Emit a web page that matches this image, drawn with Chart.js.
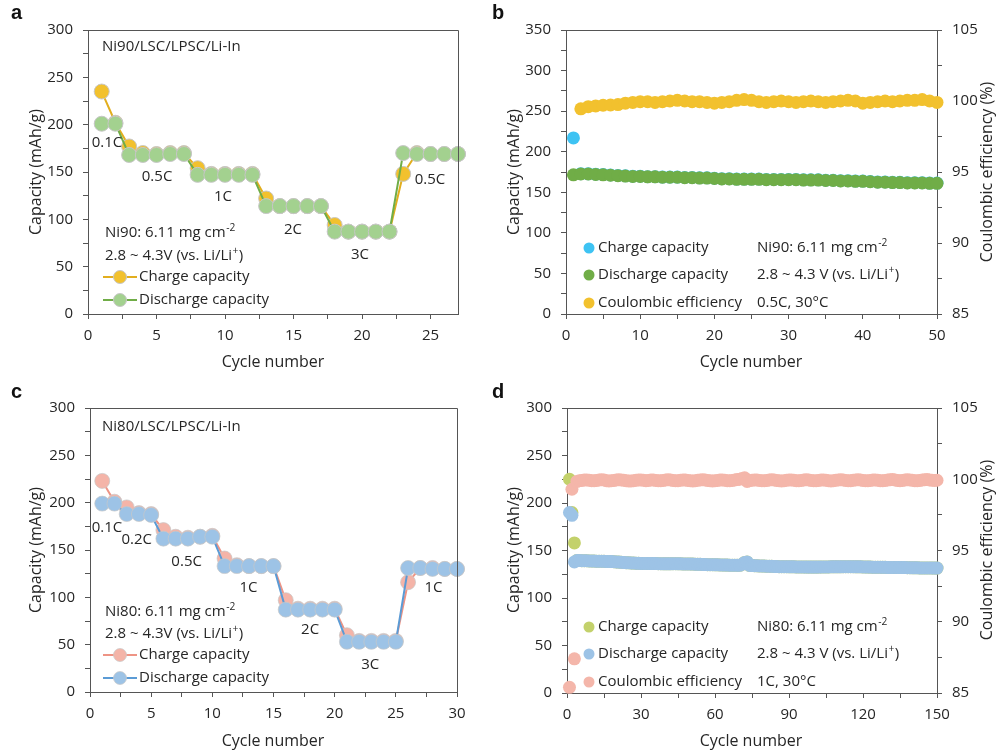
<!DOCTYPE html>
<html><head><meta charset="utf-8">
<script src="https://cdn.jsdelivr.net/npm/chart.js@4.4.1/dist/chart.umd.min.js"></script>
<style>
html,body{margin:0;padding:0;background:#fff;}
#wrap{position:relative;width:997px;height:755px;overflow:hidden;}
canvas{position:absolute;left:0;top:0;}
</style>
</head><body><div id="wrap">
<canvas id="ca" width="997" height="755"></canvas>
<canvas id="cb" width="997" height="755"></canvas>
<canvas id="cc" width="997" height="755"></canvas>
<canvas id="cd" width="997" height="755"></canvas>
</div>
<script>
// ---------------- DATA ----------------
// Panel a: Ni90 rate capability
const cyclesA = [1,2,3,4,5,6,7,8,9,10,11,12,13,14,15,16,17,18,19,20,21,22,23,24,25,26,27];
const chargeA = [235,202,177,170,169,170,170,154,148,148,148,148,122,114,114,114,114,94,87,87,87,87,148,170,169,169,169];
const dischargeA = [201,201,168,168,168,169,169,147,147,147,147,147,114,114,114,114,114,87,87,87,87,87,170,169,169,169,169];
const rateLabelsA = ['0.1C','0.5C','1C','2C','3C','0.5C'];
const rateLabelXA = [1.39,5.04,9.85,14.96,19.85,24.96];
const rateLabelYA = [180.6,144.7,123.6,88.7,62.3,142.3];

// Panel b: Ni90 cycling at 0.5C
const chargeB = [217,172.9,172.8,172.3,171.8,171.3,170.8,170.3,169.8,169.8,
  169.3,169.3,168.8,168.8,168.8,168.3,168.3,167.8,167.8,167.3,
  166.8,166.8,166.3,166.3,166.3,166.3,165.8,165.8,165.8,165.8,
  165.8,165.3,165.3,165.3,164.8,164.8,164.3,164.3,163.8,163.8,
  163.3,162.8,162.8,162.3,162.3,161.8,161.8,161.8,161.3,161.3];
const dischargeB = [171.5,172.5,172.5,172,171.5,171,170.5,170,169.5,169.5,
  169,169,168.5,168.5,168.5,168,168,167.5,167.5,167,
  166.5,166.5,166,166,166,166,165.5,165.5,165.5,165.5,
  165.5,165,165,165,164.5,164.5,164,164,163.5,163.5,
  163,162.5,162.5,162,162,161.5,161.5,161.5,161,161];
const ceB = [null,99.45,99.6,99.65,99.7,99.72,99.75,99.85,99.9,99.95,
  99.95,99.9,99.95,100.0,100.05,100.0,99.95,99.95,99.9,99.85,
  99.9,99.95,100.05,100.1,100.05,99.95,99.9,99.95,100.0,99.95,
  99.9,99.95,100.0,99.95,99.9,99.95,100.0,100.05,100.0,99.85,
  99.9,99.95,100.0,99.95,100.0,100.05,100.05,100.1,100.0,99.9];

// Panel c: Ni80 rate capability
const cyclesC = [1,2,3,4,5,6,7,8,9,10,11,12,13,14,15,16,17,18,19,20,21,22,23,24,25,26,27,28,29,30];
const chargeC = [223,201,195,189,188,171,164,163,164,165,141,134,133,133,133,97,88,88,88,88,60,54,54,54,54,116,131,131,130,130];
const dischargeC = [199,199,188,188,187,162,162,162,164,164,133,133,133,133,133,87,87,87,87,87,53,53,53,53,53,131,131,130,130,130];
const rateLabelsC = ['0.1C','0.2C','0.5C','1C','2C','3C','1C'];
const rateLabelXC = [1.39,3.82,7.9,12.95,17.99,22.9,28.07];
const rateLabelYC = [173.9,161.1,138.1,109.9,65.7,28.6,109.9];

// Panel d: Ni80 cycling at 1C
const chargeD = [225,190,158,139.5,139.5,139.3,139.2,139.2,139.0,139.0,
  138.9,138.8,138.8,138.7,138.6,138.5,138.5,138.3,138.2,138.0,
  137.8,137.6,137.4,137.2,137.0,136.9,136.8,136.6,136.5,136.4,
  136.4,136.3,136.3,136.2,136.2,136.2,136.1,136.1,136.0,136.0,
  136.0,136.0,136.1,136.1,136.0,136.0,135.9,135.9,135.8,135.8,
  135.7,135.6,135.5,135.4,135.3,135.2,135.1,135.0,135.0,134.9,
  134.9,134.8,134.8,134.7,134.7,134.6,134.6,134.5,134.5,134.4,
  135.5,137.4,137.9,134.3,134.1,134.0,133.9,133.8,133.7,133.6,
  133.5,133.4,133.3,133.2,133.1,133.0,133.0,132.9,132.9,132.8,
  132.8,132.8,132.7,132.7,132.7,132.7,132.6,132.6,132.6,132.6,
  132.6,132.6,132.7,132.7,132.7,132.7,132.8,132.8,132.8,132.8,
  132.8,132.9,132.9,132.9,132.9,132.9,132.8,132.8,132.8,132.7,
  132.7,132.6,132.6,132.5,132.5,132.4,132.4,132.3,132.3,132.2,
  132.2,132.2,132.1,132.1,132.0,132.0,132.0,131.9,131.9,131.8,
  131.8,131.8,131.7,131.7,131.7,131.6,131.6,131.6,131.5,131.5];
const dischargeD = [190,187,138,139.5,139.5,139.3,139.2,139.2,139.0,139.0,
  138.9,138.8,138.8,138.7,138.6,138.5,138.5,138.3,138.2,138.0,
  137.8,137.6,137.4,137.2,137.0,136.9,136.8,136.6,136.5,136.4,
  136.4,136.3,136.3,136.2,136.2,136.2,136.1,136.1,136.0,136.0,
  136.0,136.0,136.1,136.1,136.0,136.0,135.9,135.9,135.8,135.8,
  135.7,135.6,135.5,135.4,135.3,135.2,135.1,135.0,135.0,134.9,
  134.9,134.8,134.8,134.7,134.7,134.6,134.6,134.5,134.5,134.4,
  135.5,137.5,138.0,134.3,134.1,134.0,133.9,133.8,133.7,133.6,
  133.5,133.4,133.3,133.2,133.1,133.0,133.0,132.9,132.9,132.8,
  132.8,132.8,132.7,132.7,132.7,132.7,132.6,132.6,132.6,132.6,
  132.6,132.6,132.7,132.7,132.7,132.7,132.8,132.8,132.8,132.8,
  132.8,132.9,132.9,132.9,132.9,132.9,132.8,132.8,132.8,132.7,
  132.7,132.6,132.6,132.5,132.5,132.4,132.4,132.3,132.3,132.2,
  132.2,132.2,132.1,132.1,132.0,132.0,132.0,131.9,131.9,131.8,
  131.8,131.8,131.7,131.7,131.7,131.6,131.6,131.6,131.5,131.5];
const ceD = [85.4,99.3,87.4,99.85,99.9,99.92,99.95,99.95,99.93,99.9,
  99.9,99.92,99.95,99.97,99.95,99.9,99.88,99.9,99.92,99.95,
  99.97,99.95,99.93,99.9,99.88,99.88,99.9,99.93,99.95,99.95,
  99.93,99.9,99.92,99.95,99.95,99.92,99.9,99.9,99.92,99.95,
  99.97,99.95,99.92,99.9,99.9,99.93,99.95,99.95,99.92,99.9,
  99.88,99.9,99.93,99.95,99.97,99.95,99.92,99.9,99.88,99.9,
  99.92,99.95,99.95,99.93,99.9,99.9,99.92,99.95,99.98,100.0,
  100.05,100.1,99.85,99.9,99.93,99.95,99.95,99.92,99.9,99.9,
  99.92,99.95,99.97,99.95,99.92,99.9,99.88,99.9,99.93,99.95,
  99.95,99.93,99.9,99.9,99.92,99.95,99.97,99.95,99.92,99.9,
  99.9,99.92,99.95,99.95,99.93,99.9,99.88,99.9,99.93,99.95,
  99.97,99.95,99.92,99.9,99.9,99.93,99.95,99.97,99.95,99.92,
  99.9,99.9,99.92,99.95,99.95,99.93,99.9,99.9,99.92,99.95,
  99.97,99.98,99.95,99.92,99.9,99.92,99.95,99.97,99.95,99.93,
  99.9,99.9,99.92,99.95,99.97,99.98,99.95,99.93,99.92,99.93];

// ---------------- STYLE ----------------
const FONT = '"Open Sans", sans-serif';
const TXT = '#262626';
const AX = '#555555';
const C = {
  aCharge:'#F2C12E', aChargeLine:'#E2AE1E', aDis:'#A3D18F', aDisLine:'#70AD47',
  bCharge:'#3EC3F3', bDis:'#70AD47', bCE:'#F2C12E',
  cCharge:'#F4B4A8', cChargeLine:'#EE9485', cDis:'#9DC3E6', cDisLine:'#5B9BD5',
  dCharge:'#C3D16B', dDis:'#9DC3E6', dCE:'#F4B6AA'
};

function pts(xs, ys){ return ys.map((y,i)=>({x: xs ? xs[i] : i+1, y})); }

function isMult(v, m){ const r = v/m; return Math.abs(r-Math.round(r))<1e-6; }

function xAxis(min,max,step,every,h){
  return {type:'linear',position:'bottom',min,max,
    ticks:{stepSize:step,includeBounds:false,autoSkip:false,maxRotation:0,minRotation:0,padding:8,color:TXT,
      font:{family:FONT,size:15},callback:v=>isMult(v,every)?String(v):''},
    grid:{drawOnChartArea:false,drawTicks:true,tickLength:5,tickColor:AX,tickWidth:1},
    border:{display:true,color:AX,width:1},
    afterFit:s=>{s.height=h;}};
}
function yAxis(min,max,step,every,w,pos){
  return {type:'linear',position:pos||'left',min,max,
    ticks:{stepSize:step,includeBounds:false,autoSkip:false,padding:10,color:TXT,
      font:{family:FONT,size:15},callback:v=>isMult(v,every)?String(v):''},
    grid:{drawOnChartArea:false,drawTicks:true,tickLength:5,tickColor:AX,tickWidth:1},
    border:{display:true,color:AX,width:1},
    afterFit:s=>{s.width=w;}};
}

function rich(ctx, x, y, parts, size){
  let cx = x;
  ctx.textAlign='left'; ctx.textBaseline='middle'; ctx.fillStyle=TXT;
  for(const p of parts){
    const sup = p[1];
    const fs = sup ? size*0.68 : size;
    ctx.font = fs+'px '+FONT;
    ctx.fillText(p[0], cx + (sup?0.5:0), sup ? y - size*0.33 : y);
    cx += ctx.measureText(p[0]).width + (sup?1:0);
  }
}
function rotText(ctx, x, y, text, size, ang){
  ctx.save(); ctx.translate(x,y); ctx.rotate(ang);
  ctx.font = size+'px '+FONT; ctx.fillStyle=TXT; ctx.textAlign='center'; ctx.textBaseline='middle';
  ctx.fillText(text,0,0); ctx.restore();
}
function letter(ctx, x, y, t){
  ctx.font='bold 20px "Liberation Sans", Arial, sans-serif'; ctx.fillStyle='#111';
  ctx.textAlign='left'; ctx.textBaseline='alphabetic'; ctx.fillText(t,x,y);
}
function dot(ctx,x,y,r,fill,stroke){
  ctx.beginPath(); ctx.arc(x,y,r,0,Math.PI*2); ctx.fillStyle=fill; ctx.fill();
  if(stroke){ctx.lineWidth=1; ctx.strokeStyle=stroke; ctx.stroke();}
}
function boxLines(chart, right){
  const a = chart.chartArea, ctx = chart.ctx;
  ctx.save(); ctx.strokeStyle=AX; ctx.lineWidth=1; ctx.beginPath();
  ctx.moveTo(Math.round(a.left)+0.5, Math.round(a.top)+0.5);
  ctx.lineTo(Math.round(a.right)+0.5, Math.round(a.top)+0.5);
  if(right) ctx.lineTo(Math.round(a.right)+0.5, Math.round(a.bottom)+0.5);
  ctx.stroke(); ctx.restore();
}

function baseOptions(pad, scales){
  return {responsive:false, animation:false, devicePixelRatio:1, events:[],
    layout:{padding:pad},
    plugins:{legend:{display:false},tooltip:{enabled:false}},
    scales};
}

// ---------------- PANEL A ----------------
new Chart(document.getElementById('ca'), {
  type:'line',
  data:{datasets:[
    {label:'Discharge capacity', data:pts(cyclesA,dischargeA), borderColor:C.aDisLine, borderWidth:2,
     pointRadius:7.5, pointBackgroundColor:C.aDis, pointBorderColor:'#C6C6C6', pointBorderWidth:1, clip:false},
    {label:'Charge capacity', data:pts(cyclesA,chargeA), borderColor:C.aChargeLine, borderWidth:2,
     pointRadius:7.5, pointBackgroundColor:C.aCharge, pointBorderColor:'#C6C6C6', pointBorderWidth:1, clip:false}
  ]},
  options: baseOptions({left:48,right:539,top:30,bottom:401},
    {x:xAxis(0,27,2.5,5,40), y:yAxis(0,300,25,50,40)}),
  plugins:[{id:'txtA', afterDraw(chart){
    const ctx=chart.ctx, sx=chart.scales.x, sy=chart.scales.y;
    boxLines(chart,true);
    ctx.save();
    letter(ctx,11,19,'a');
    rotText(ctx,36,172,'Capacity (mAh/g)',16,-Math.PI/2);
    rotText(ctx,273,362,'Cycle number',16,0);
    rich(ctx,102,47,[['Ni90/LSC/LPSC/Li-In']],15);
    rateLabelsA.forEach((t,i)=>{
      ctx.font='15px '+FONT; ctx.fillStyle=TXT; ctx.textAlign='center'; ctx.textBaseline='middle';
      ctx.fillText(t, sx.getPixelForValue(rateLabelXA[i]), sy.getPixelForValue(rateLabelYA[i]));
    });
    rich(ctx,105,233,[['Ni90: 6.11 mg cm'],['-2',true]],15);
    rich(ctx,105,256,[['2.8 ~ 4.3V (vs. Li/Li'],['+',true],[')']],15);
    ctx.lineWidth=2;
    ctx.strokeStyle=C.aChargeLine; ctx.beginPath(); ctx.moveTo(103,277); ctx.lineTo(137,277); ctx.stroke();
    dot(ctx,120,277,6.5,C.aCharge,'#C6C6C6');
    rich(ctx,139,277,[['Charge capacity']],15);
    ctx.lineWidth=2;
    ctx.strokeStyle=C.aDisLine; ctx.beginPath(); ctx.moveTo(103,300); ctx.lineTo(137,300); ctx.stroke();
    dot(ctx,120,300,6.5,C.aDis,'#C6C6C6');
    rich(ctx,139,300,[['Discharge capacity']],15);
    ctx.restore();
  }}]
});

// ---------------- PANEL B ----------------
new Chart(document.getElementById('cb'), {
  type:'line',
  data:{datasets:[
    {label:'Coulombic efficiency', data:pts(null,ceB), yAxisID:'y1', showLine:false,
     pointRadius:6.5, pointBackgroundColor:C.bCE, pointBorderWidth:0, clip:false},
    {label:'Discharge capacity', data:pts(null,dischargeB), yAxisID:'y', showLine:false,
     pointRadius:6.5, pointBackgroundColor:C.bDis, pointBorderWidth:0, clip:false},
    {label:'Charge capacity', data:pts(null,chargeB), yAxisID:'y', showLine:false,
     pointRadius:6.5, pointBackgroundColor:C.bCharge, pointBorderWidth:0, clip:false}
  ]},
  options: baseOptions({left:526,right:15,top:30,bottom:401},
    {x:xAxis(0,50,5,10,40), y:yAxis(0,350,25,50,40), y1:yAxis(85,105,2.5,5,45,'right')}),
  plugins:[{id:'txtB', afterDraw(chart){
    const ctx=chart.ctx;
    boxLines(chart,false);
    ctx.save();
    letter(ctx,492,19,'b');
    rotText(ctx,514,172,'Capacity (mAh/g)',16,-Math.PI/2);
    rotText(ctx,987,172,'Coulombic efficiency (%)',16,-Math.PI/2);
    rotText(ctx,751,362,'Cycle number',16,0);
    dot(ctx,589,248,5.5,C.bCharge); rich(ctx,598,248,[['Charge capacity']],15);
    dot(ctx,589,275,5.5,C.bDis); rich(ctx,598,275,[['Discharge capacity']],15);
    dot(ctx,589,303,5.5,C.bCE); rich(ctx,598,303,[['Coulombic efficiency']],15);
    rich(ctx,757,248,[['Ni90: 6.11 mg cm'],['-2',true]],15);
    rich(ctx,757,275,[['2.8 ~ 4.3 V (vs. Li/Li'],['+',true],[')']],15);
    rich(ctx,757,303,[['0.5C, 30°C']],15);
    ctx.restore();
  }}]
});

// ---------------- PANEL C ----------------
new Chart(document.getElementById('cc'), {
  type:'line',
  data:{datasets:[
    {label:'Discharge capacity', data:pts(cyclesC,dischargeC), borderColor:C.cDisLine, borderWidth:2,
     pointRadius:7.5, pointBackgroundColor:C.cDis, pointBorderColor:'rgba(200,200,200,0.7)', pointBorderWidth:1, clip:false},
    {label:'Charge capacity', data:pts(cyclesC,chargeC), borderColor:C.cChargeLine, borderWidth:2,
     pointRadius:7.5, pointBackgroundColor:C.cCharge, pointBorderColor:'rgba(200,200,200,0.7)', pointBorderWidth:1, clip:false}
  ]},
  options: baseOptions({left:50,right:540,top:408,bottom:23},
    {x:xAxis(0,30,2.5,5,40), y:yAxis(0,300,25,50,40)}),
  plugins:[{id:'txtC', afterDraw(chart){
    const ctx=chart.ctx, sx=chart.scales.x, sy=chart.scales.y;
    boxLines(chart,true);
    ctx.save();
    letter(ctx,11,398,'c');
    rotText(ctx,36,550,'Capacity (mAh/g)',16,-Math.PI/2);
    rotText(ctx,273,741,'Cycle number',16,0);
    rich(ctx,102,427,[['Ni80/LSC/LPSC/Li-In']],15);
    rateLabelsC.forEach((t,i)=>{
      ctx.font='15px '+FONT; ctx.fillStyle=TXT; ctx.textAlign='center'; ctx.textBaseline='middle';
      ctx.fillText(t, sx.getPixelForValue(rateLabelXC[i]), sy.getPixelForValue(rateLabelYC[i]));
    });
    rich(ctx,105,612,[['Ni80: 6.11 mg cm'],['-2',true]],15);
    rich(ctx,105,634,[['2.8 ~ 4.3V (vs. Li/Li'],['+',true],[')']],15);
    ctx.lineWidth=2;
    ctx.strokeStyle=C.cChargeLine; ctx.beginPath(); ctx.moveTo(103,655); ctx.lineTo(137,655); ctx.stroke();
    dot(ctx,120,655,6.5,C.cCharge,'rgba(200,200,200,0.7)');
    rich(ctx,139,655,[['Charge capacity']],15);
    ctx.lineWidth=2;
    ctx.strokeStyle=C.cDisLine; ctx.beginPath(); ctx.moveTo(103,678); ctx.lineTo(137,678); ctx.stroke();
    dot(ctx,120,678,6.5,C.cDis,'rgba(200,200,200,0.7)');
    rich(ctx,139,678,[['Discharge capacity']],15);
    ctx.restore();
  }}]
});

// ---------------- PANEL D ----------------
new Chart(document.getElementById('cd'), {
  type:'line',
  data:{datasets:[
    {label:'Coulombic efficiency', data:pts(null,ceD), yAxisID:'y1', showLine:false,
     pointRadius:6.5, pointBackgroundColor:C.dCE, pointBorderWidth:0, clip:false},
    {label:'Discharge capacity', data:pts(null,dischargeD), yAxisID:'y', showLine:false,
     pointRadius:6.5, pointBackgroundColor:C.dDis, pointBorderWidth:0, clip:false},
    {label:'Charge capacity', data:pts(null,chargeD), yAxisID:'y', showLine:false,
     pointRadius:6.5, pointBackgroundColor:C.dCharge, pointBorderWidth:0, clip:false}
  ]},
  options: baseOptions({left:527,right:15,top:408,bottom:22},
    {x:xAxis(0,150,15,30,40), y:yAxis(0,300,25,50,40), y1:yAxis(85,105,2.5,5,45,'right')}),
  plugins:[{id:'txtD', afterDraw(chart){
    const ctx=chart.ctx;
    boxLines(chart,false);
    ctx.save();
    letter(ctx,492,398,'d');
    rotText(ctx,514,550,'Capacity (mAh/g)',16,-Math.PI/2);
    rotText(ctx,987,550,'Coulombic efficiency (%)',16,-Math.PI/2);
    rotText(ctx,751,741,'Cycle number',16,0);
    dot(ctx,589,627,5.5,C.dCharge); rich(ctx,598,627,[['Charge capacity']],15);
    dot(ctx,589,654,5.5,C.dDis); rich(ctx,598,654,[['Discharge capacity']],15);
    dot(ctx,589,682,5.5,C.dCE); rich(ctx,598,682,[['Coulombic efficiency']],15);
    rich(ctx,757,627,[['Ni80: 6.11 mg cm'],['-2',true]],15);
    rich(ctx,757,654,[['2.8 ~ 4.3 V (vs. Li/Li'],['+',true],[')']],15);
    rich(ctx,757,682,[['1C, 30°C']],15);
    ctx.restore();
  }}]
});
</script>
</body></html>
